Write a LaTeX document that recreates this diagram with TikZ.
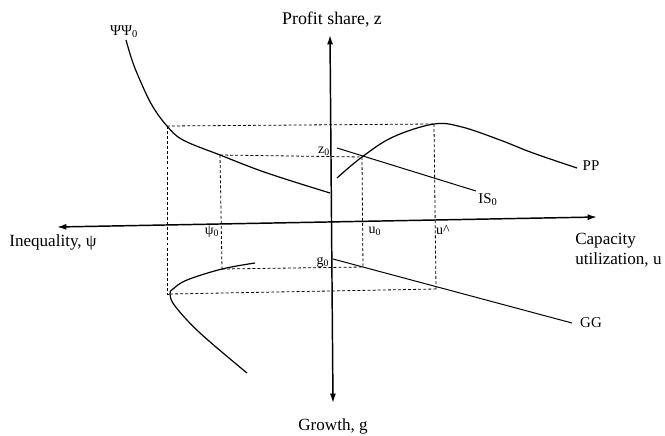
\documentclass[tikz,border=0pt]{standalone}
\usepackage{fontspec}
\setmainfont{Liberation Serif}
\usetikzlibrary{arrows.meta}
\begin{document}
\begin{tikzpicture}[x=0.75pt,y=-0.75pt,
  axis/.style={line width=1.1pt,{Latex[length=7pt,width=4.5pt]}-{Latex[length=7pt,width=4.5pt]}},
  curve/.style={line width=0.9pt},
  guide/.style={line width=0.6pt,dash pattern=on 2.2pt off 1.6pt},
  big/.style={font=\fontsize{12.8}{14}\selectfont,inner sep=0pt},
  small/.style={font=\fontsize{11.2}{13}\selectfont,inner sep=0pt},
  tiny/.style={font=\fontsize{10.5}{12}\selectfont,inner sep=0pt}]
\useasboundingbox (0,0) rectangle (665,436);
% axes end points
\coordinate (ztop) at (330,35);
\coordinate (gbot) at (333,403);
\coordinate (uright) at (597,217);
\coordinate (psileft) at (57,227);
\draw[axis] (gbot) -- (ztop);
\draw[axis] (psileft) -- (uright);
% key points
\coordinate (A) at (167,126);
\coordinate (B) at (220,155);
\coordinate (C) at (362,157);
\coordinate (D) at (434,124);
\coordinate (E) at (363,267);
\coordinate (F) at (436,289);
\coordinate (G) at (222,269);
\coordinate (H) at (170,294);
% dotted guides
\draw[guide] (A) -- (D);
\draw[guide] (B) -- (C);
\draw[guide] (A) -- (A|-H) -- (H);
\draw[guide] (H) -- (F);
\draw[guide] (B) -- (G);
\draw[guide] (G) -- (E);
\draw[guide] (C) -- (E);
\draw[guide] (D) -- (F);
% PsiPsi0 curve
\draw[curve] plot[smooth,tension=0.6] coordinates {(126,40) (133,63) (143,87) (153,107) (167,126) (183,140) (220,155) (267,173) (330,193)};
% PP curve
\draw[curve] plot[smooth,tension=0.6] coordinates {(337,178) (362,157) (393,137) (434,124) (462,127) (500,140) (533,153) (577,168)};
% IS0
\coordinate (isA) at (337,148);
\coordinate (isB) at (476,191);
\draw[curve,line width=0.75pt] (isA) -- (isB);
% GG
\coordinate (ggA) at (333,259);
\coordinate (ggB) at (572,323);
\draw[curve,line width=0.75pt] (ggA) -- (ggB);
% left lower curve
\draw[curve] plot[smooth,tension=0.6] coordinates {(255,263) (222,269) (187,280) (173,289) (170,294) (175,306) (200,333) (247,373)};
% labels
\node[big,font=\fontsize{13.4}{15}\selectfont] (lz) at (332,20) {Profit share, z};
\node[big] (lpsi) at (53,242) {Inequality, ψ};
\node[big,anchor=west,align=left] (lu) at (575,250) {Capacity\\[1pt]utilization, u};
\node[big] (lg) at (333,426) {Growth, g};
\node[small] (lPsi) at (124,32) {ΨΨ\textsubscript{0}};
\node[small] (lPP) at (591,166) {PP};
\node[small] (lIS) at (488,200) {IS\textsubscript{0}};
\node[small] (lGG) at (591,323) {GG};
\node[tiny] (lz0) at (324,151) {z\textsubscript{0}};
\node[tiny] (lg0) at (323,262) {g\textsubscript{0}};
\node[tiny] (lu0) at (375,231) {u\textsubscript{0}};
\node[tiny] (luh) at (443,230) {u\textasciicircum};
\node[tiny] (lpsi0) at (212,232) {ψ\textsubscript{0}};
\end{tikzpicture}
\end{document}
